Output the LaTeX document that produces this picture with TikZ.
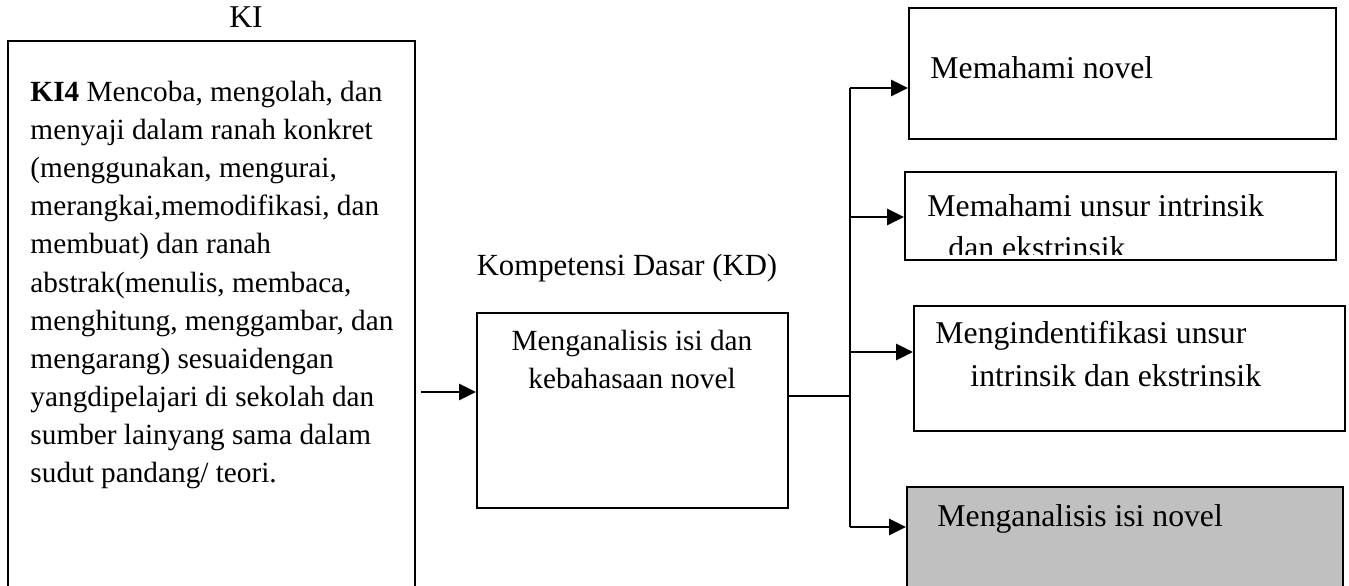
\documentclass[tikz,border=0pt]{standalone}
\usepackage{fontspec}
\setmainfont{Liberation Serif}
\usetikzlibrary{arrows.meta, fit}

\begin{document}
\begin{tikzpicture}[x=0.41pt, y=-0.41pt,
  kotak/.style = {draw, line width=0.7pt, inner sep=0pt},
  teks/.style = {anchor=base west, inner sep=0pt, font=\fontsize{12}{15.6}\selectfont},
  teksbesar/.style = {teks, font=\fontsize{13}{16}\selectfont},
  panah/.style = {-{Triangle[length=7pt, width=6.5pt]}, line width=1.2pt},
  garis/.style = {line width=0.9pt}]
  \path[use as bounding box, clip] (0,0) rectangle (1349,586);

  % kompetensi inti
  \node[teksbesar, anchor=base] (ki) at (246,28) {KI};
  \node[kotak, fit={(8,41) (415,600)}] (kibox) {};
  \node[teks, anchor=north west, align=left] (kitext) at (30,81) {\textbf{KI4} Mencoba, mengolah, dan\\
    menyaji dalam ranah konkret\\
    (menggunakan, mengurai,\\
    merangkai,memodifikasi, dan\\
    membuat) dan ranah\\
    abstrak(menulis, membaca,\\
    menghitung, menggambar, dan\\
    mengarang) sesuaidengan\\
    yangdipelajari di sekolah dan\\
    sumber lainyang sama dalam\\
    sudut pandang/ teori.};

  % kompetensi dasar
  \node[teks, anchor=base, font=\fontsize{12.6}{15}\selectfont] (kdlabel) at (627,276) {Kompetensi Dasar (KD)};
  \node[kotak, fit={(477,313) (788,508)}] (kd) {};
  \node[teks, anchor=north, align=center] (kdtext) at (632,330) {Menganalisis isi dan\\kebahasaan novel};

  % tujuan
  \node[kotak, fit={(909,8) (1336,139)}] (b1) {};
  \node[teksbesar] (b1text) at (930,79) {Memahami novel};

  \node[kotak, fit={(905,172) (1336,260)}] (b2) {};
  \node[teksbesar] (b2text) at (927,217) {Memahami unsur intrinsik};
  \begin{scope}
    \clip (905,172) rectangle (1336,255);
    \node[teksbesar] (b2texttwo) at (948,259) {dan ekstrinsik};
  \end{scope}

  \node[kotak, fit={(914,306) (1345,431)}] (b3) {};
  \node[teksbesar] (b3text) at (935,344) {Mengindentifikasi unsur};
  \node[teksbesar] (b3texttwo) at (970,387) {intrinsik dan ekstrinsik};

  \node[kotak, fill={rgb,255:red,192;green,192;blue,192}, fit={(907,487) (1343,600)}] (b4) {};
  \node[teksbesar] (b4text) at (937,527) {Menganalisis isi novel};

  % penghubung
  \coordinate (a0) at (421,392);
  \coordinate (t0) at (850,396);
  \coordinate (t1) at (850,88);
  \coordinate (t2) at (850,217);
  \coordinate (t3) at (850,352);
  \coordinate (t4) at (850,527);

  \draw[panah] (a0) -- (a0 -| kd.west);
  \draw[garis] (t0 -| kd.east) -- (t0);
  \draw[garis] (t1) -- (t4);
  \draw[panah] (t1) -- (t1 -| b1.west);
  \draw[panah] (t2) -- (t2 -| b2.west);
  \draw[panah] (t3) -- (t3 -| b3.west);
  \draw[panah] (t4) -- (t4 -| b4.west);
\end{tikzpicture}
\end{document}
